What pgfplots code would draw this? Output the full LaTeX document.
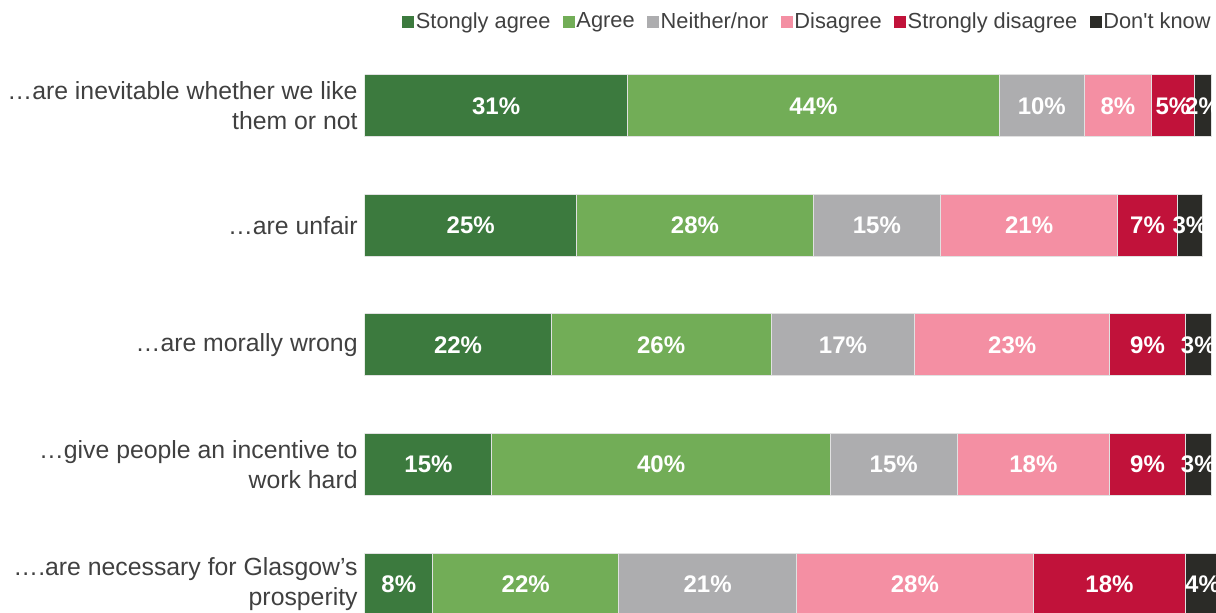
\documentclass[border=0pt]{standalone}
\usepackage{pgfplots}
\pgfplotsset{compat=1.18}
\usepackage{pgfplotstable}
\usepackage{fontspec}
\setmainfont{Liberation Sans}
\newfontfamily\plainf{Liberation Sans}
\definecolor{csa}{RGB}{60,122,62}
\definecolor{ca}{RGB}{114,173,87}
\definecolor{cn}{RGB}{173,173,175}
\definecolor{cd}{RGB}{244,143,163}
\definecolor{csd}{RGB}{193,18,58}
\definecolor{cdk}{RGB}{43,43,39}
\definecolor{txt}{RGB}{64,64,64}
\definecolor{edge}{RGB}{225,225,225}
\pgfplotstableread{
idx sa a n d sd dk
0 31 44 10 8 5 2
1 25 28 15 21 7 3
2 22 26 17 23 9 3
3 15 40 15 18 9 3
4 8 22 21 28 18 4
}\data
\begin{document}
\begin{tikzpicture}
\begin{axis}[
  at={(182.5pt,0pt)}, anchor=south west,
  scale only axis, width=431.46pt, height=283pt,
  xbar stacked, bar width=31pt,
  xmin=0, xmax=102,
  ymin=-0.5, ymax=4.234, y dir=reverse,
  ytick={0,1,2,3,4},
  yticklabels={{…are inevitable whether we like\\them or not},{…are unfair},{…are morally wrong},{…give people an incentive to\\work hard},{….are necessary for Glasgow’s\\prosperity}},
  yticklabel style={align=right, inner sep=0pt, xshift=-3.5pt, font=\fontsize{12.4}{15}\selectfont, text=txt},
  xtick=\empty,
  axis line style={draw=none},
  major tick length=0pt,
  tick style={draw=none},
  /pgf/number format/assume math mode=true,
  seg/.style={visualization depends on={\thisrow{#1}\as\segw}},
  every axis plot/.append style={draw=edge, line width=0.5pt},
  nodes near coords={\pgfmathprintnumber[fixed,precision=0,assume math mode=true]{\segw}\%},
  every node near coord/.append style={anchor=center, text=white, font=\fontsize{12}{14}\selectfont\bfseries},
  legend columns=6,
  legend image code/.code={\fill[#1,draw=none] (0pt,-3pt) rectangle (6pt,3pt);},
  legend style={at={(0.0434,1.0424)}, anchor=west, draw=none, fill=none, inner sep=0pt, outer sep=0pt,
    font=\fontsize{10.9}{13}\selectfont, text=txt, nodes={inner sep=0.75pt},
    /tikz/every even column/.append style={column sep=5.5pt}},
]
\addplot[fill=csa, seg=sa] table[x=sa, y=idx] {\data};
\addlegendentry{Stongly agree}
\addplot[fill=ca, seg=a] table[x=a, y=idx] {\data};
\addlegendentry{Agree}
\addplot[fill=cn, seg=n] table[x=n, y=idx] {\data};
\addlegendentry{Neither/nor}
\addplot[fill=cd, seg=d] table[x=d, y=idx] {\data};
\addlegendentry{Disagree}
\addplot[fill=csd, seg=sd] table[x=sd, y=idx] {\data};
\addlegendentry{Strongly disagree}
\addplot[fill=cdk, seg=dk] table[x=dk, y=idx] {\data};
\addlegendentry{Don{\plainf'}t know}
\end{axis}
\pgfresetboundingbox
\path[use as bounding box] (0,0) rectangle (608pt,306pt);
\end{tikzpicture}
\end{document}
